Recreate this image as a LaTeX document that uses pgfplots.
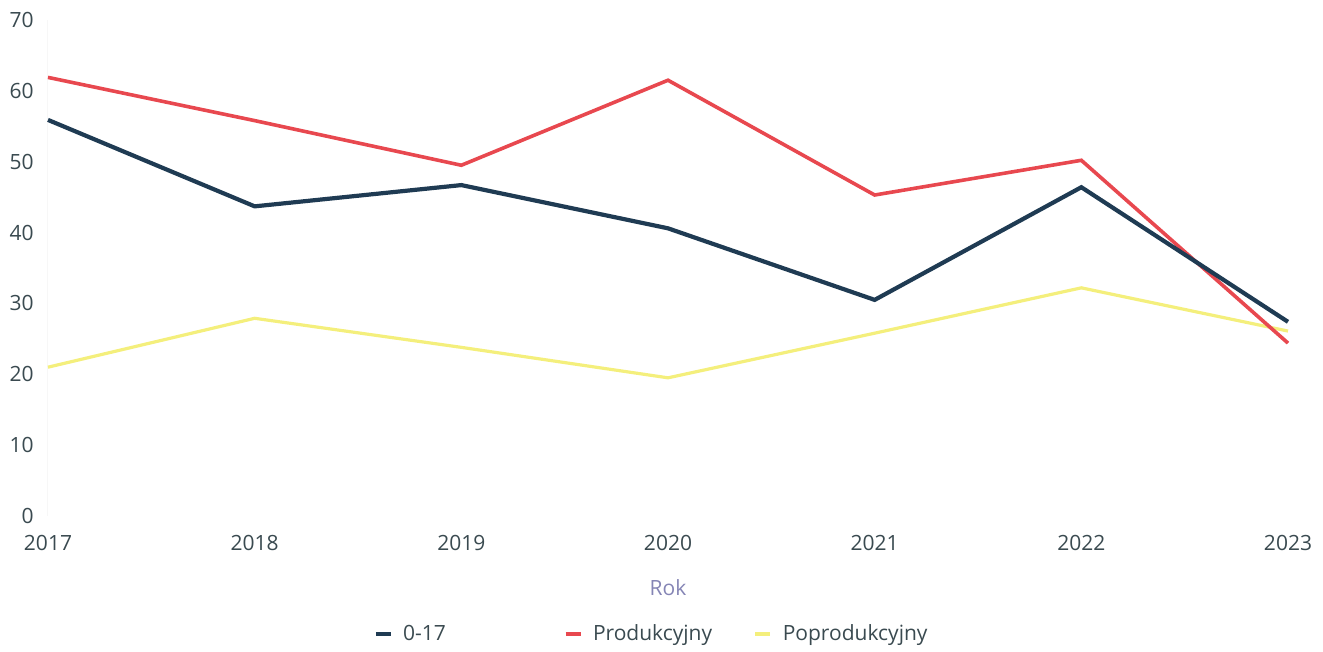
\documentclass[border=0pt]{standalone}
\usepackage{fontspec}
\setmainfont{Open Sans}
\usepackage{pgfplots}
\pgfplotsset{compat=1.18}
\definecolor{cdark}{HTML}{1F3B53}
\definecolor{cred}{HTML}{E8484F}
\definecolor{cyel}{HTML}{F4EF7C}
\definecolor{ctext}{HTML}{3A4A50}
\definecolor{clab}{HTML}{8585B5}
\begin{document}
\begin{tikzpicture}
\useasboundingbox (-24pt,-68pt) rectangle (637.5pt,258pt);
\begin{axis}[
  at={(0,0)}, anchor=south west,
  scale only axis, width=620pt, height=248pt,
  xmin=2017, xmax=2023, ymin=0, ymax=70,
  xtick={2017,2018,2019,2020,2021,2022,2023},
  ytick={0,10,20,30,40,50,60,70},
  axis line style={draw=none},
  tick style={draw=none},
  font=\fontsize{10.5pt}{12pt}\selectfont,
  /pgf/number format/assume math mode=true,
  /pgf/number format/1000 sep={},
  xticklabel style={anchor=center, yshift=-13.5pt, text=ctext},
  yticklabel style={anchor=east, inner sep=0pt, xshift=-7pt, text=ctext},
  xlabel={Rok},
  xlabel style={at={(axis description cs:0.5,0)}, anchor=center, yshift=-36pt, text=clab},
  legend columns=3,
  legend style={draw=none, fill=none, at={(162.5pt,-59pt)}, anchor=west,
    font=\fontsize{10.5pt}{12pt}\selectfont, text=ctext,
    /tikz/every even column/.append style={column sep=0pt},
    inner sep=0pt, nodes={inner sep=0pt}},
  legend image code/.code={\draw[#1, line width=2.4pt] (0pt,0pt) -- (7.5pt,0pt);},
  clip=false,
]
\draw[gray!6, line width=0.5pt] (axis cs:2017,0) -- (axis cs:2017,70);
\addplot[cyel, line width=1.6pt, forget plot] coordinates {
(2017,21.0) (2018,27.9) (2019,23.8) (2020,19.5) (2021,25.8) (2022,32.2) (2023,26.1)};
\addplot[cred, line width=1.8pt, forget plot] coordinates {
(2017,61.9) (2018,55.8) (2019,49.5) (2020,61.5) (2021,45.3) (2022,50.2) (2023,24.4)};
\addplot[cdark, line width=2.1pt, forget plot] coordinates {
(2017,55.9) (2018,43.7) (2019,46.7) (2020,40.6) (2021,30.5) (2022,46.4) (2023,27.4)};
\addlegendimage{cdark}
\addlegendentry{\hspace{5pt}\makebox[80pt][l]{0-17}}
\addlegendimage{cred}
\addlegendentry{\hspace{5pt}\makebox[80pt][l]{Produkcyjny}}
\addlegendimage{cyel}
\addlegendentry{\hspace{5pt}\makebox[80pt][l]{Poprodukcyjny}}
\end{axis}
\end{tikzpicture}
\end{document}
